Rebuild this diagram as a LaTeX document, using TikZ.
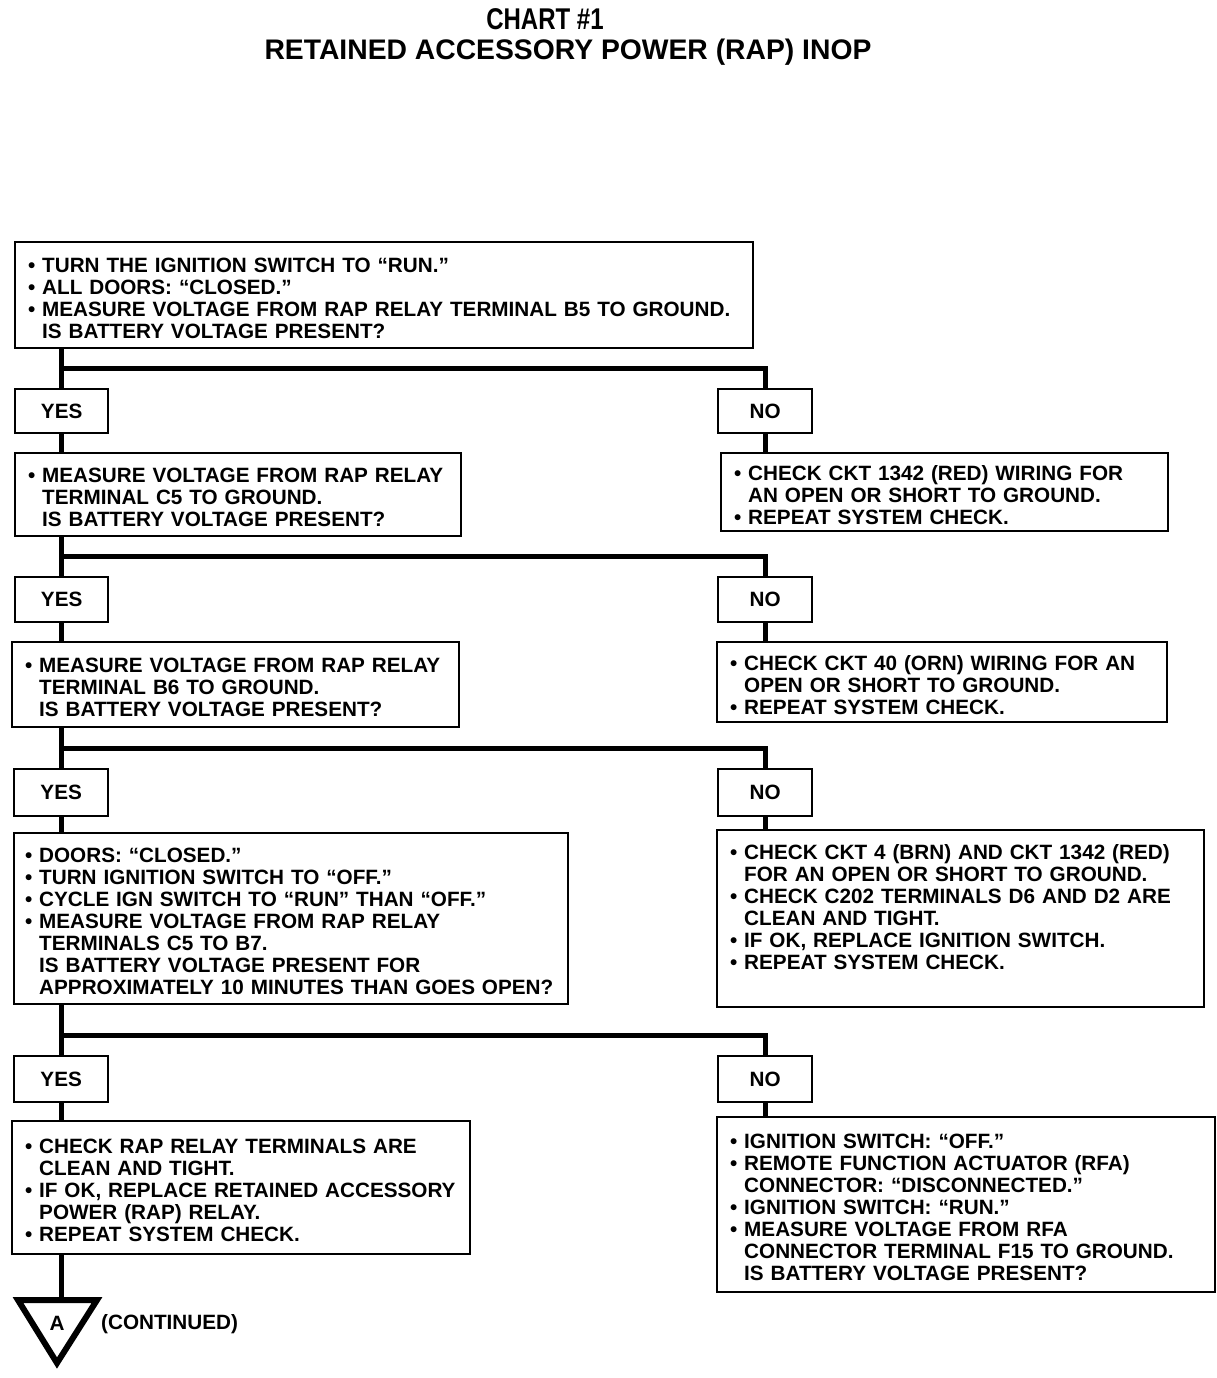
\documentclass[tikz,border=0pt]{standalone}
\usepackage{fontspec}
\setmainfont{Liberation Sans}
\newfontfamily\condf{Liberation Sans}[FakeStretch=0.8]
\usetikzlibrary{calc}
\newcommand\bl{\makebox[14pt][l]{\textbullet}}
\newcommand\ind{\hspace*{14pt}}
\newcommand\bodyfont{\bfseries\fontsize{20.7}{22}\selectfont}
\newcommand\topstrut{\rule{0pt}{20pt}}
\begin{document}
\begin{tikzpicture}[x=1pt,y=-1pt,
  box/.style={draw, line width=2.4pt, rectangle, anchor=north west, inner xsep=13pt, inner ysep=0pt, align=left, font=\bodyfont},
  ans/.style={draw, line width=2.4pt, rectangle, anchor=north west, minimum width=94pt, minimum height=45pt, inner sep=0pt, font=\bodyfont},
  conn/.style={line width=5pt},
  tri/.style={line width=6pt, line join=miter}]
\useasboundingbox (0,0) rectangle (1216,1378);
% titles
\node[font=\condf\bfseries\fontsize{30}{30}\selectfont, inner sep=0pt] (t1) at (545,19) {CHART \#1};
\node[font=\bfseries\fontsize{28.3}{28}\selectfont, inner sep=0pt] (t2) at (568,52) {RETAINED ACCESSORY POWER (RAP) INOP};
% row 1
\node[box, text width=712pt, minimum height=106pt] (q1) at (14,241) {\topstrut\bl TURN THE IGNITION SWITCH TO “RUN.”\\\bl ALL DOORS: “CLOSED.”\\\bl MEASURE VOLTAGE FROM RAP RELAY TERMINAL B5 TO GROUND.\\\ind IS BATTERY VOLTAGE PRESENT?};
\node[ans, minimum width=93pt, minimum height=44pt] (y1) at (14,388) {YES};
\node[ans, minimum height=44pt] (n1) at (717,388) {NO};
\node[box, text width=420pt, minimum height=83pt] (q2) at (14,452) {\topstrut\bl MEASURE VOLTAGE FROM RAP RELAY\\\ind TERMINAL C5 TO GROUND.\\\ind IS BATTERY VOLTAGE PRESENT?};
\node[box, text width=421pt, minimum height=78pt] (r1) at (720,452) {\topstrut\bl CHECK CKT 1342 (RED) WIRING FOR\\\ind AN OPEN OR SHORT TO GROUND.\\\bl REPEAT SYSTEM CHECK.};
% row 2
\node[ans, minimum width=93pt] (y2) at (14,576) {YES};
\node[ans] (n2) at (717,576) {NO};
\node[box, text width=421pt, minimum height=85pt] (q3) at (11,641) {\topstrut\bl MEASURE VOLTAGE FROM RAP RELAY\\\ind TERMINAL B6 TO GROUND.\\\ind IS BATTERY VOLTAGE PRESENT?};
\node[box, text width=424pt, minimum height=80pt] (r2) at (716,641) {\topstrut\bl CHECK CKT 40 (ORN) WIRING FOR AN\\\ind OPEN OR SHORT TO GROUND.\\\bl REPEAT SYSTEM CHECK.};
% row 3
\node[ans, minimum height=47pt] (y3) at (13,768) {YES};
\node[ans, minimum height=47pt] (n3) at (717,768) {NO};
\node[box, inner xsep=11pt, text width=532pt, minimum height=171pt] (q4) at (13,832) {\topstrut\bl DOORS: “CLOSED.”\\\bl TURN IGNITION SWITCH TO “OFF.”\\\bl CYCLE IGN SWITCH TO “RUN” THAN “OFF.”\\\bl MEASURE VOLTAGE FROM RAP RELAY\\\ind TERMINALS C5 TO B7.\\\ind IS BATTERY VOLTAGE PRESENT FOR\\\ind \mbox{APPROXIMATELY 10 MINUTES THAN GOES OPEN?}};
\node[box, text width=461pt, minimum height=177pt] (r3) at (716,829) {\topstrut\bl CHECK CKT 4 (BRN) AND CKT 1342 (RED)\\\ind FOR AN OPEN OR SHORT TO GROUND.\\\bl CHECK C202 TERMINALS D6 AND D2 ARE\\\ind CLEAN AND TIGHT.\\\bl IF OK, REPLACE IGNITION SWITCH.\\\bl REPEAT SYSTEM CHECK.\rule[-28pt]{0pt}{1pt}};
% row 4
\node[ans, minimum height=46pt] (y4) at (13,1055) {YES};
\node[ans, minimum height=46pt] (n4) at (717,1055) {NO};
\node[box, text width=432pt, minimum height=133pt] (q5) at (11,1120) {\topstrut\bl CHECK RAP RELAY TERMINALS ARE\\\ind CLEAN AND TIGHT.\\\bl IF OK, REPLACE RETAINED ACCESSORY\\\ind POWER (RAP) RELAY.\\\bl REPEAT SYSTEM CHECK.};
\node[box, text width=472pt, minimum height=175pt] (r4) at (716,1116) {\topstrut\bl IGNITION SWITCH: “OFF.”\\\bl REMOTE FUNCTION ACTUATOR (RFA)\\\ind CONNECTOR: “DISCONNECTED.”\\\bl IGNITION SWITCH: “RUN.”\\\bl MEASURE VOLTAGE FROM RFA\\\ind CONNECTOR TERMINAL F15 TO GROUND.\\\ind IS BATTERY VOLTAGE PRESENT?};
% continuation triangle
\coordinate (ta) at (18,1300);
\coordinate (tb) at (97,1300);
\coordinate (tc) at (57,1363);
\draw[tri] (ta) -- (tb) -- (tc) -- cycle;
\node[font=\bodyfont, inner sep=0pt] (A) at (57,1323) {A};
\node[font=\bodyfont, inner sep=0pt, anchor=west] (cont) at (101,1324) {(CONTINUED)};
% connectors
\coordinate (j1) at ($(y1.north |- q1.south)!0.5!(y1.north)$);
\draw[conn] (y1.north |- q1.south) -- (y1.north);
\draw[conn] (j1) -| (n1.north);
\draw[conn] (y1.south) -- (y1.south |- q2.north);
\draw[conn] (n1.south) -- (n1.south |- r1.north);
\coordinate (j2) at ($(y2.north |- q2.south)!0.5!(y2.north)$);
\draw[conn] (y2.north |- q2.south) -- (y2.north);
\draw[conn] (j2) -| (n2.north);
\draw[conn] (y2.south) -- (y2.south |- q3.north);
\draw[conn] (n2.south) -- (n2.south |- r2.north);
\coordinate (j3) at ($(y3.north |- q3.south)!0.5!(y3.north)$);
\draw[conn] (y3.north |- q3.south) -- (y3.north);
\draw[conn] (j3) -| (n3.north);
\draw[conn] (y3.south) -- (y3.south |- q4.north);
\draw[conn] (n3.south) -- (n3.south |- r3.north);
\coordinate (j4) at ($(y4.north |- q4.south)!0.6!(y4.north)$);
\draw[conn] (y4.north |- q4.south) -- (y4.north);
\draw[conn] (j4) -| (n4.north);
\draw[conn] (y4.south) -- (y4.south |- q5.north);
\draw[conn] (n4.south) -- (n4.south |- r4.north);
\draw[conn] (y4.south |- q5.south) -- (y4.south |- ta);
\end{tikzpicture}
\end{document}
